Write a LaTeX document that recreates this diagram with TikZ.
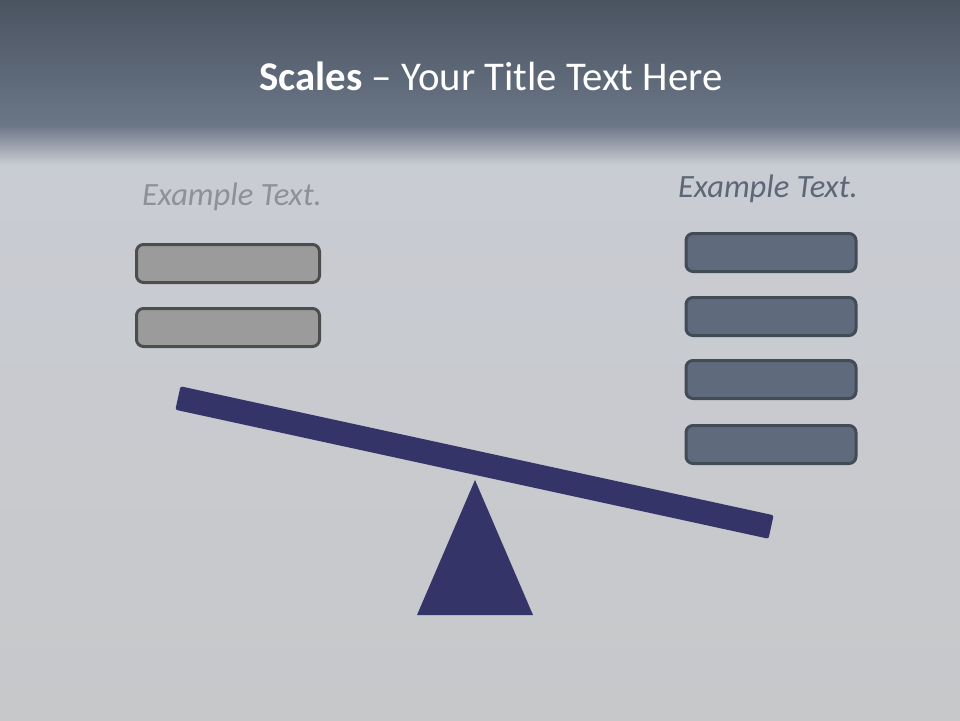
\documentclass[tikz,border=0pt]{standalone}
\usepackage{fontspec}
\setmainfont{Carlito}
\begin{document}
\begin{tikzpicture}[x=1pt,y=-1pt,
  leftbox/.style={draw=lbord,fill=lfill,line width=3pt,rounded corners=7pt,minimum width=183pt,minimum height=38pt,inner sep=0pt},
  rightbox/.style={draw=rbord,fill=rfill,line width=3pt,rounded corners=7pt,minimum width=170pt,minimum height=38pt,inner sep=0pt},
  exlabel/.style={font=\fontsize{32.5}{38}\selectfont\itshape,inner sep=0pt}]
\definecolor{hdtop}{HTML}{4A5461}
\definecolor{hdbot}{HTML}{6B7687}
\definecolor{bodytop}{HTML}{C9CCD3}
\definecolor{bodybot}{HTML}{C7C8CA}
\definecolor{lfill}{HTML}{9B9B9B}
\definecolor{lbord}{HTML}{4D4D4D}
\definecolor{rfill}{HTML}{5F6B7C}
\definecolor{rbord}{HTML}{434B57}
\definecolor{beamc}{HTML}{343468}
\definecolor{ltext}{HTML}{8E9196}
\definecolor{rtext}{HTML}{5D6778}
\useasboundingbox (0,0) rectangle (960,720);
% background
\shade[top color=bodytop,bottom color=bodybot] (0,150) rectangle (960,720);
\shade[top color=hdbot,bottom color=bodytop] (0,125) rectangle (960,165);
\shade[top color=hdtop,bottom color=hdbot] (0,0) rectangle (960,126);
% title
\node[text=white,font=\fontsize{40.8}{46}\selectfont,inner sep=0pt] (title) at (491,76) {\textbf{Scales} – Your Title Text Here};
% labels
\node[exlabel,text=ltext] (ltxt) at (232,197) {Example Text.};
\node[exlabel,text=rtext] (rtxt) at (768,189) {Example Text.};
% left boxes
\node[leftbox] (l1) at (228,263.5) {};
\node[leftbox] (l2) at (228,327.5) {};
% right boxes
\node[rightbox] (r1) at (771,252.5) {};
\node[rightbox] (r2) at (771,316.5) {};
\node[rightbox] (r3) at (771,379.5) {};
\node[rightbox] (r4) at (771,444.5) {};
% fulcrum
\fill[beamc] (475,480) -- (533,615) -- (417,615) -- cycle;
% beam
\node[fill=beamc,rounded corners=2pt,minimum width=607pt,minimum height=24pt,inner sep=0pt,rotate=-12.27] (beam) at (474.5,462.5) {};
\end{tikzpicture}
\end{document}
